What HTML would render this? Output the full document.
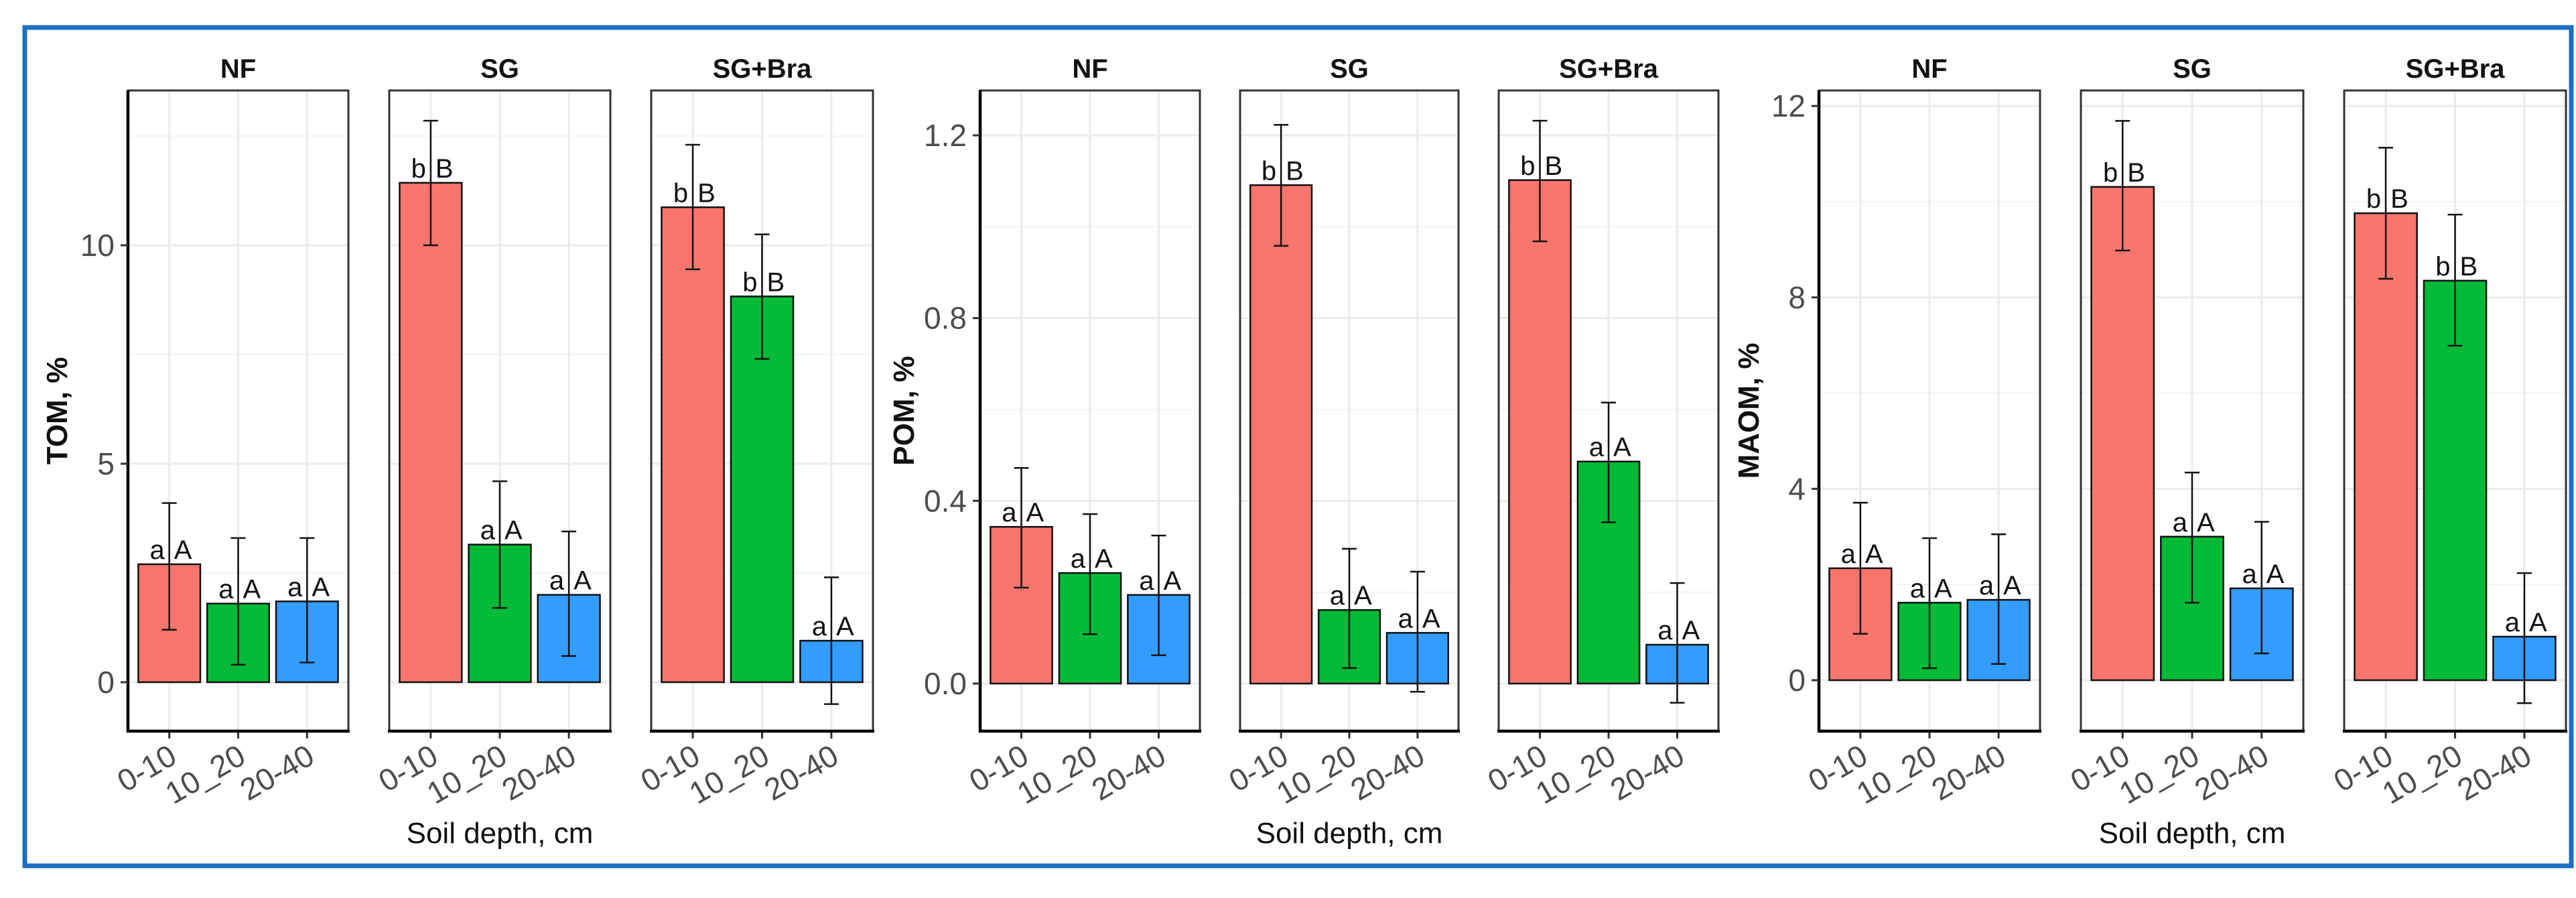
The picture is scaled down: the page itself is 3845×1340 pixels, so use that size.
<!DOCTYPE html>
<html><head><meta charset="utf-8">
<style>
html,body{margin:0;padding:0;background:#fff;}
svg{display:block;font-family:"Liberation Sans",Arial,sans-serif;}
</style></head>
<body>
<svg id="fig" xmlns="http://www.w3.org/2000/svg" width="3845" height="1340" viewBox="0 0 3845 1340">
<rect x="0" y="0" width="3845" height="1340" fill="#fff"/>
<rect x="37" y="41" width="3801" height="1251" fill="none" stroke="#1e6fc4" stroke-width="7"/>
</svg>
<script>
// ---- data ----
const facets = ["NF", "SG", "SG+Bra"];
const depths = ["0-10", "10_20", "20-40"];
const fillColors = ["#f8766d", "#00ba38", "#339dff"];

const tomMean = [[2.7, 1.8, 1.85], [11.43, 3.15, 2.0], [10.87, 8.83, 0.95]];
const tomLow  = [[1.2, 0.4, 0.45], [10.0, 1.7, 0.6], [9.45, 7.4, -0.5]];
const tomHigh = [[4.1, 3.3, 3.3], [12.85, 4.6, 3.45], [12.3, 10.25, 2.4]];
const tomLetters = [["a A", "a A", "a A"], ["b B", "a A", "a A"], ["b B", "b B", "a A"]];
const tomTicks = [0, 5, 10];
const tomTickLabels = ["0", "5", "10"];

const pomMean = [[0.343, 0.242, 0.194], [1.091, 0.161, 0.111], [1.102, 0.486, 0.085]];
const pomLow  = [[0.21, 0.108, 0.062], [0.958, 0.034, -0.018], [0.968, 0.353, -0.042]];
const pomHigh = [[0.472, 0.371, 0.324], [1.223, 0.295, 0.245], [1.232, 0.615, 0.22]];
const pomLetters = [["a A", "a A", "a A"], ["b B", "a A", "a A"], ["b B", "a A", "a A"]];
const pomTicks = [0, 0.4, 0.8, 1.2];
const pomTickLabels = ["0.0", "0.4", "0.8", "1.2"];

const maomMean = [[2.34, 1.62, 1.68], [10.31, 3.0, 1.92], [9.76, 8.35, 0.91]];
const maomLow  = [[0.97, 0.25, 0.34], [8.98, 1.62, 0.56], [8.39, 6.99, -0.48]];
const maomHigh = [[3.71, 2.97, 3.05], [11.69, 4.34, 3.31], [11.13, 9.73, 2.24]];
const maomLetters = [["a A", "a A", "a A"], ["b B", "a A", "a A"], ["b B", "b B", "a A"]];
const maomTicks = [0, 4, 8, 12];
const maomTickLabels = ["0", "4", "8", "12"];

// ---- drawing ----
const NS = "http://www.w3.org/2000/svg";
const svg = document.getElementById("fig");
function mk(tag, attrs, parent) {
  const e = document.createElementNS(NS, tag);
  for (const k in attrs) e.setAttribute(k, attrs[k]);
  (parent || svg).appendChild(e);
  return e;
}

function drawChart(cfg) {
  const g = mk("g", {});
  
  
  const top = 135, bottom = 1091;
  const yScale = v => cfg.zeroY - (v - 0) * cfg.pxPerUnit;
  const yt = mk("text", {x: 0, y: 0, "font-size": 44, "font-weight": "bold", fill: "#111", "text-anchor": "middle",
    transform: "translate(" + cfg.yTitleX + "," + ((top + bottom) / 2) + ") rotate(-90)"}, g);
  yt.textContent = cfg.yTitle;
  
  
  cfg.panelX.forEach((px, fi) => {
    const x0 = px[0], x1 = px[1];
    const pg = mk("g", {}, g);
    
    
    const band = (x1 - x0) / 3.2;
    const xc = i => x0 + band * (0.6 + i);
    const step = cfg.ticks[1] - cfg.ticks[0];
    for (let i = 0; i < cfg.ticks.length; i++) {
      const yv = yScale(cfg.ticks[i]);
      mk("line", {x1: x0, x2: x1, y1: yv, y2: yv, stroke: "#ebebeb", "stroke-width": 3}, pg);
      const ym = yScale(cfg.ticks[i] + step / 2);
      if (ym > top) mk("line", {x1: x0, x2: x1, y1: ym, y2: ym, stroke: "#f4f4f4", "stroke-width": 2}, pg);
      if (i === 0) { const yn = yScale(cfg.ticks[0] - step / 2); if (yn < bottom) mk("line", {x1: x0, x2: x1, y1: yn, y2: yn, stroke: "#f4f4f4", "stroke-width": 2}, pg); }
    }
    depths.forEach((d, i) => mk("line", {x1: xc(i), x2: xc(i), y1: top, y2: bottom, stroke: "#ebebeb", "stroke-width": 3}, pg));
    depths.forEach((d, i) => {
      const m = cfg.mean[fi][i];
      const bw = band * 0.9;
      const r = mk("rect", {x: xc(i) - bw / 2, y: Math.min(yScale(m), yScale(0)), width: bw,
        height: Math.abs(yScale(0) - yScale(m)), fill: fillColors[i], stroke: "#111", "stroke-width": 2.5}, pg);
      
      
      const lo = yScale(cfg.low[fi][i]), hi = yScale(cfg.high[fi][i]);
      const eb = mk("path", {d: "M" + (xc(i) - 11) + "," + hi + "H" + (xc(i) + 11) + "M" + xc(i) + "," + hi + "V" + lo +
        "M" + (xc(i) - 11) + "," + lo + "H" + (xc(i) + 11), stroke: "#111", "stroke-width": 2.5, fill: "none"}, pg);
      
      
      const parts = cfg.letters[fi][i].split(" ");
      const la = mk("text", {x: xc(i) - 7, y: yScale(m) - 8, "font-size": 40, fill: "#111", "text-anchor": "end"}, pg);
      la.textContent = parts[0];
      
      
      const lb = mk("text", {x: xc(i) + 7, y: yScale(m) - 8, "font-size": 40, fill: "#111", "text-anchor": "start"}, pg);
      lb.textContent = parts[1];
      
      
      mk("line", {x1: xc(i), x2: xc(i), y1: bottom, y2: bottom + 11, stroke: "#333", "stroke-width": 3}, pg);
      const tl = mk("text", {x: 0, y: 0, "font-size": 46, fill: "#4d4d4d", "text-anchor": "end",
        transform: "translate(" + (xc(i) + 14) + "," + (bottom + 46) + ") rotate(-30)"}, pg);
      tl.textContent = d;
      
      
    });
    mk("rect", {x: x0, y: top, width: x1 - x0, height: bottom - top, fill: "none", stroke: "#333", "stroke-width": 3}, pg);
    mk("line", {x1: x0 - 2, x2: x1 + 2, y1: bottom, y2: bottom, stroke: "#000", "stroke-width": 4.5}, pg);
    const st = mk("text", {x: (x0 + x1) / 2, y: 116, "font-size": 40, "font-weight": "bold", fill: "#111", "text-anchor": "middle"}, pg);
    st.textContent = facets[fi];
    
    
    if (fi === 0) {
      mk("line", {x1: x0, x2: x0, y1: top, y2: bottom + 2, stroke: "#000", "stroke-width": 4.5}, pg);
      cfg.ticks.forEach((t, k) => {
        const yv = yScale(t);
        mk("line", {x1: x0 - 11, x2: x0, y1: yv, y2: yv, stroke: "#333", "stroke-width": 3}, pg);
        const tx = mk("text", {x: x0 - 20, y: yv + 16, "font-size": 46, fill: "#4d4d4d", "text-anchor": "end"}, pg);
        tx.textContent = cfg.tickLabels[k];
        
        
      });
    }
  });
  const xt = mk("text", {x: (cfg.panelX[1][0] + cfg.panelX[1][1]) / 2, y: 1258, "font-size": 44, fill: "#111", "text-anchor": "middle"}, g);
  xt.textContent = "Soil depth, cm";
  
  
}

drawChart({id: "tom", yTitle: "TOM, %", yTitleX: 100, zeroY: 1018, pxPerUnit: 65.2,
  panelX: [[191, 520], [581, 911], [972, 1303]], mean: tomMean, low: tomLow, high: tomHigh,
  letters: tomLetters, ticks: tomTicks, tickLabels: tomTickLabels});
drawChart({id: "pom", yTitle: "POM, %", yTitleX: 1364, zeroY: 1020, pxPerUnit: 681.7,
  panelX: [[1463, 1791], [1851, 2177], [2237, 2565]], mean: pomMean, low: pomLow, high: pomHigh,
  letters: pomLetters, ticks: pomTicks, tickLabels: pomTickLabels});
drawChart({id: "maom", yTitle: "MAOM, %", yTitleX: 2625, zeroY: 1015, pxPerUnit: 71.4,
  panelX: [[2715, 3045], [3106, 3438], [3499, 3830]], mean: maomMean, low: maomLow, high: maomHigh,
  letters: maomLetters, ticks: maomTicks, tickLabels: maomTickLabels});
</script>
</body></html>
